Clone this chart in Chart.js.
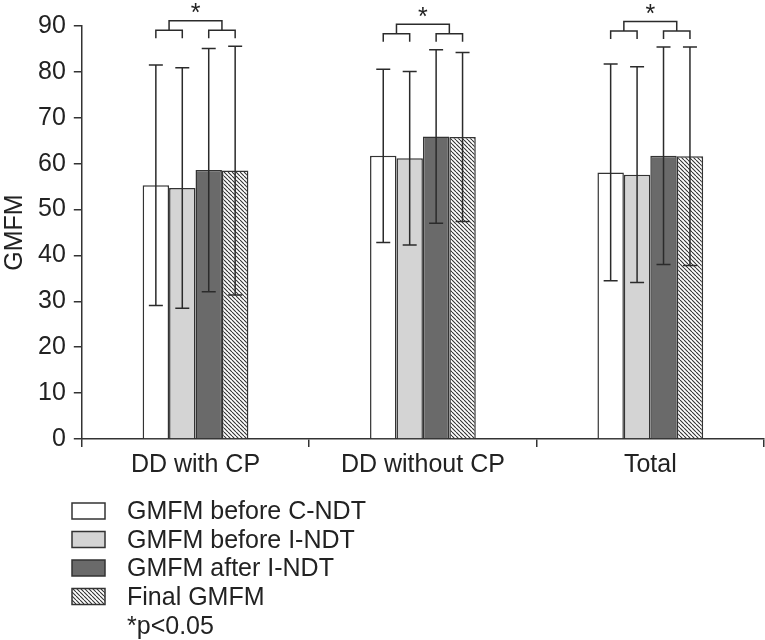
<!DOCTYPE html>
<html>
<head>
<meta charset="utf-8">
<script src="https://cdn.jsdelivr.net/npm/chart.js@4.4.1/dist/chart.umd.min.js"></script>
<style>
  body { margin: 0; background: #fff; }
  canvas { display: block; }
</style>
</head>
<body>
<canvas id="gmfm_chart" width="765" height="640"></canvas>
<script>
const categories = ['DD with CP', 'DD without CP', 'Total'];
const seriesLabels = ['GMFM before C-NDT', 'GMFM before I-NDT', 'GMFM after I-NDT', 'Final GMFM'];

// means and SD per series, one value per category
const beforeCNDT = [55.3, 61.7, 58.1];
const beforeCNDTsd = [26.2, 18.9, 23.6];
const beforeINDT = [54.7, 61.2, 57.6];
const beforeINDTsd = [26.2, 18.9, 23.5];
const afterINDT = [58.6, 65.9, 61.7];
const afterINDTsd = [26.5, 18.9, 23.7];
const finalGMFM = [58.5, 65.8, 61.6];
const finalGMFMsd = [27.1, 18.4, 23.8];

const yTicks = [0, 10, 20, 30, 40, 50, 60, 70, 80, 90];
const sigNote = '*p<0.05';

const FONT = '"Liberation Sans", Arial, Helvetica, sans-serif';
const INK = '#2b2b2b';

// hatched fill for the last series
function makeHatch() {
    const s = 4;
    const c = document.createElement('canvas');
    c.width = s; c.height = s;
    const g = c.getContext('2d');
    g.fillStyle = '#fff';
    g.fillRect(0, 0, s, s);
    g.strokeStyle = '#333';
    g.lineWidth = 1.1;
    g.beginPath();
    for (const k of [-s, 0, s]) {
        g.moveTo(k, 0);
        g.lineTo(k + s, s);
    }
    g.stroke();
    return g.createPattern(c, 'repeat');
}
const hatch = makeHatch();

const means = [beforeCNDT, beforeINDT, afterINDT, finalGMFM];
const sds = [beforeCNDTsd, beforeINDTsd, afterINDTsd, finalGMFMsd];
const fills = ['#ffffff', '#d4d4d4', '#6a6a6a', hatch];

const datasets = means.map((m, i) => ({
    label: seriesLabels[i],
    data: m,
    sd: sds[i],
    backgroundColor: fills[i],
    borderColor: '#333',
    borderWidth: 1.5,
    categoryPercentage: 0.465,
    barPercentage: 1
}));

// error bars, significance brackets and the legend
const extrasPlugin = {
    id: 'extras',
    afterDatasetsDraw(chart) {
        const ctx = chart.ctx;
        const y = chart.scales.y;
        ctx.save();
        ctx.strokeStyle = INK;
        ctx.lineWidth = 1.5;
        // error bars
        chart.data.datasets.forEach((ds, di) => {
            const meta = chart.getDatasetMeta(di);
            meta.data.forEach((bar, i) => {
                const top = y.getPixelForValue(ds.data[i] + ds.sd[i]);
                const bot = y.getPixelForValue(ds.data[i] - ds.sd[i]);
                ctx.beginPath();
                ctx.moveTo(bar.x, top); ctx.lineTo(bar.x, bot);
                ctx.moveTo(bar.x - 7, top); ctx.lineTo(bar.x + 7, top);
                ctx.moveTo(bar.x - 7, bot); ctx.lineTo(bar.x + 7, bot);
                ctx.stroke();
            });
        });
        // brackets: (1,2) and (3,4), joined, with a star
        categories.forEach((c, i) => {
            const xs = chart.data.datasets.map((ds, di) => chart.getDatasetMeta(di).data[i].x);
            let highest = Infinity;
            chart.data.datasets.forEach(ds => {
                highest = Math.min(highest, y.getPixelForValue(ds.data[i] + ds.sd[i]));
            });
            const foot = highest - 8;
            const mid = foot - 8;
            const topY = mid - 9.5;
            const l = (xs[0] + xs[1]) / 2, r = (xs[2] + xs[3]) / 2;
            ctx.beginPath();
            ctx.moveTo(xs[0], foot); ctx.lineTo(xs[0], mid); ctx.lineTo(xs[1], mid); ctx.lineTo(xs[1], foot);
            ctx.moveTo(xs[2], foot); ctx.lineTo(xs[2], mid); ctx.lineTo(xs[3], mid); ctx.lineTo(xs[3], foot);
            ctx.moveTo(l, mid); ctx.lineTo(l, topY); ctx.lineTo(r, topY); ctx.lineTo(r, mid);
            ctx.stroke();
            ctx.fillStyle = '#222';
            ctx.font = '25px ' + FONT;
            ctx.textAlign = 'center';
            ctx.textBaseline = 'alphabetic';
            ctx.fillText('*', (l + r) / 2, topY + 0.5);
        });
        ctx.restore();
    },
    afterDraw(chart) {
        const ctx = chart.ctx;
        ctx.save();
        ctx.font = '25px ' + FONT;
        ctx.textAlign = 'left';
        ctx.textBaseline = 'alphabetic';
        const base0 = 519, pitch = 28.5;
        chart.data.datasets.forEach((ds, i) => {
            const b = base0 + i * pitch;
            ctx.fillStyle = ds.backgroundColor;
            ctx.fillRect(72, b - 16, 33, 16);
            ctx.strokeStyle = '#333';
            ctx.lineWidth = 1.5;
            ctx.strokeRect(72, b - 16, 33, 16);
            ctx.fillStyle = '#222';
            ctx.fillText(ds.label, 127, b);
        });
        ctx.fillStyle = '#222';
        ctx.fillText(sigNote, 127, base0 + 4 * pitch + 1);
        ctx.restore();
    }
};

const config = {
    type: 'bar',
    data: { labels: categories, datasets: datasets },
    options: {
        responsive: false,
        animation: false,
        devicePixelRatio: 1,
        layout: { padding: { top: 26, right: 1, bottom: 157, left: 0 } },
        plugins: {
            legend: { display: false },
            tooltip: { enabled: false }
        },
        scales: {
            x: {
                grid: { drawOnChartArea: false, tickLength: 8, color: '#333', lineWidth: 1.5 },
                border: { color: '#333', width: 1.5 },
                ticks: { color: '#222', font: { family: FONT, size: 25 }, padding: 3 }
            },
            y: {
                min: 0,
                max: 90,
                afterBuildTicks(scale) { scale.ticks = yTicks.map(v => ({ value: v })); },
                grid: { drawOnChartArea: false, tickLength: 8, color: '#333', lineWidth: 1.5 },
                border: { color: '#333', width: 1.5 },
                ticks: { color: '#222', font: { family: FONT, size: 25 }, padding: 8 },
                title: { display: true, text: 'GMFM', color: '#222', font: { family: FONT, size: 25 }, padding: 0 }
            }
        }
    },
    plugins: [extrasPlugin]
};

const gmfmChart = new Chart(document.getElementById('gmfm_chart'), config);
</script>
</body>
</html>
